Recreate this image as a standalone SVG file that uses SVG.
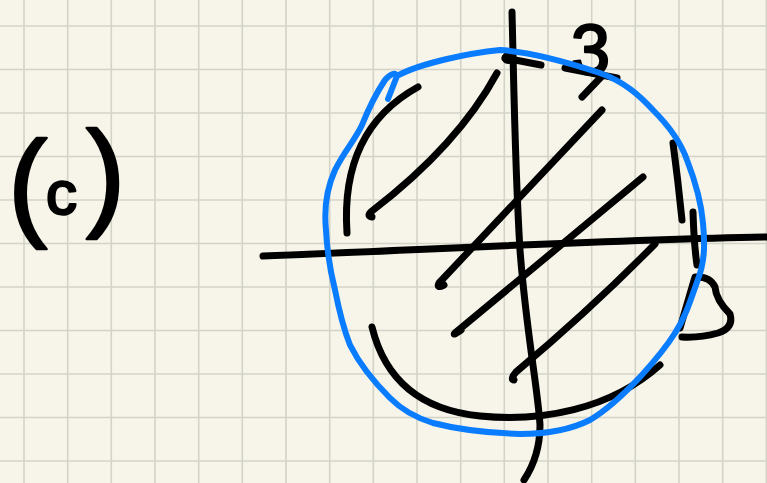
<svg xmlns="http://www.w3.org/2000/svg" width="767" height="483" viewBox="0 0 767 483">
<style>
.grid{stroke:#d4d3c7;stroke-width:1.6;fill:none}
.ink{stroke:#000;stroke-width:7;fill:none;stroke-linecap:round;stroke-linejoin:round}
.blue{stroke:#0a7cff;stroke-width:6;fill:none;stroke-linecap:round;stroke-linejoin:round}
.hand{font-family:"Liberation Sans","DejaVu Sans",sans-serif;fill:#000;stroke:#000;stroke-width:2.5;stroke-linejoin:round}
</style>
<rect width="767" height="483" fill="#f7f5e9"/>
<g id="grid">
<path class="grid" d="M24,0V483M67.7,0V483M111.3,0V483M155,0V483M198.7,0V483M242.3,0V483M286,0V483M329.7,0V483M373.3,0V483M417,0V483M460.7,0V483M504.3,0V483M548,0V483M591.7,0V483M635.3,0V483M679,0V483M722.7,0V483M766.3,0V483M0,26H767M0,69.5H767M0,113H767M0,156.5H767M0,200H767M0,243.5H767M0,287H767M0,330.5H767M0,374H767M0,417.5H767M0,461H767"/>
</g>
<g id="label-c">
<text class="hand" font-size="118" y="224"><tspan x="8">(</tspan><tspan x="46" y="214" font-size="62">c</tspan><tspan x="86">)</tspan></text>
</g>
<g id="axes">
<path class="ink" d="M263,256 C420,250 600,240 767,237"/>
<path class="ink" d="M512,12 C514,90 515,170 520,250 C526,330 538,390 540,425 C540,450 532,468 524,480"/>
<path class="ink" d="M512,60 C505,62 503,57 508,55"/>
</g>
<g id="hatching">
<path class="ink" d="M418,87 Q340,130 347,233"/>
<path class="ink" d="M497,73 Q458,145 372,211 Q366,216 372,217"/>
<path class="ink" d="M603,75 L582,97"/>
<path class="ink" d="M602,110 L439,283 Q436,289 444,285"/>
<path class="ink" d="M643,177 L455,333 Q452,336 461,330"/>
<path class="ink" d="M655,244 Q590,310 516,372 Q510,379 514,380"/>
<path class="ink" d="M372,327 C385,380 420,410 480,416 C540,422 610,410 660,365"/>
<path class="ink" d="M673,143 Q678,180 682,220"/>
<path class="ink" d="M693,212 Q694,245 697,265"/>
<path class="ink" d="M505,58 L541,65"/>
<path class="ink" d="M565,68 L617,78"/>
</g>
<g id="label-3-top">
<text class="hand" font-size="70" x="571" y="74">3</text>
</g>
<g id="mark-right">
<path class="ink" d="M680,328 L695,277 Q710,276 715,287 Q716,300 730,314 Q734,328 718,333 Q700,338 682,337"/>
</g>
<g id="circle">
<path class="blue" d="M388,99 L397,76 C420,63 470,53 500,50 C533,52 567,62 600,73 C625,82 640,96 653,110 C668,125 680,140 687,160 C694,178 701,200 703,223 C705,245 705,262 697,282 C690,302 685,318 675,333 C663,352 650,366 640,377 C625,393 610,408 590,420 C570,430 545,434 520,434 C490,433 460,430 433,423 C413,417 400,408 390,398 C375,383 360,365 350,345 C342,325 338,305 335,290 C330,270 327,250 326,230 C324,210 326,190 335,170 C345,150 355,140 362,125 C368,110 375,95 385,80 C390,74 395,72 397,76"/>
</g>
</svg>
